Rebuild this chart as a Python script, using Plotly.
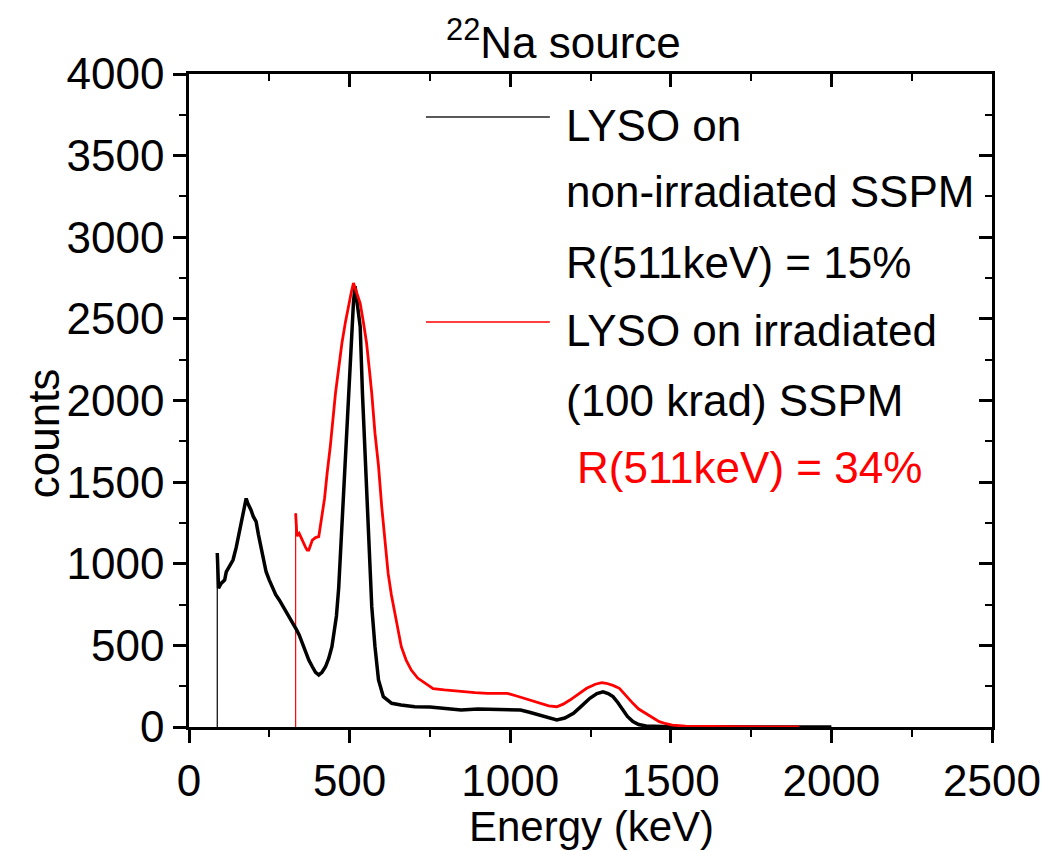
import plotly.graph_objects as go

# ---- data ----
energy_black = [88, 88, 92, 100, 111, 116, 125, 137, 147, 157, 165, 173, 178, 183, 188, 193, 200,
                209, 216, 224, 232, 240, 250, 260, 270, 281, 291, 301, 314, 327, 335, 343, 353,
                363, 373, 384, 394, 404, 414, 425, 435, 445, 452, 459, 466, 476, 487, 497, 507,
                512, 517, 522, 527, 533, 540, 548, 553, 559, 569, 579, 590, 605, 631, 660, 703,
                750, 795, 847, 900, 950, 1000, 1032, 1060, 1094, 1120, 1145, 1170, 1197, 1220,
                1248, 1270, 1289, 1305, 1320, 1335, 1351, 1365, 1382, 1400, 1423, 1450, 1500,
                1600, 1800, 2000]
counts_black = [0, 1066, 850, 880, 900, 950, 980, 1023, 1100, 1196, 1270, 1329, 1400, 1370, 1350,
                1329, 1290, 1258, 1180, 1094, 1020, 951, 900, 849, 810, 778, 745, 717, 670, 625,
                595, 564, 510, 461, 410, 369, 335, 319, 335, 369, 420, 492, 574, 680, 850, 1230,
                1650, 2044, 2452, 2600, 2700, 2620, 2560, 2452, 2044, 1676, 1450, 1146, 737, 492,
                288, 186, 145, 135, 124, 122, 114, 104, 110, 108, 104, 104, 90, 73, 55, 43, 55,
                84, 125, 176, 205, 216, 205, 186, 150, 104, 65, 33, 15, 6, 3, 2, 1, 0, 0]

energy_red = [332, 332, 336, 343, 353, 363, 368, 373, 384, 394, 404, 415, 422, 430, 440, 456, 466,
              476, 487, 497, 505, 512, 518, 525, 533, 543, 553, 561, 569, 579, 590, 600, 610, 620,
              630, 641, 651, 661, 676, 692, 712, 734, 760, 795, 847, 890, 929, 960, 991, 1020,
              1042, 1070, 1094, 1120, 1145, 1165, 1186, 1210, 1238, 1265, 1285, 1299, 1320, 1340,
              1360, 1382, 1400, 1423, 1445, 1464, 1485, 1505, 1546, 1600, 1700, 1800, 1900]
counts_red = [0, 1309, 1170, 1186, 1140, 1100, 1084, 1084, 1145, 1160, 1166, 1309, 1400, 1554,
              1720, 2044, 2200, 2350, 2480, 2595, 2660, 2720, 2680, 2640, 2595, 2480, 2350, 2200,
              2044, 1800, 1600, 1350, 1140, 941, 810, 696, 590, 492, 410, 349, 300, 268, 235,
              227, 216, 210, 206, 205, 206, 190, 176, 160, 145, 130, 124, 140, 165, 200, 237, 262,
              272, 268, 255, 237, 190, 145, 110, 84, 55, 33, 20, 12, 5, 3, 2, 1, 1]

x_ticks = [0, 500, 1000, 1500, 2000, 2500]
y_ticks = [0, 500, 1000, 1500, 2000, 2500, 3000, 3500, 4000]

legend_lines = ["LYSO on", "non-irradiated SSPM", "R(511keV) = 15%",
                "LYSO on irradiated", "(100 krad) SSPM"]
legend_red_line = "R(511keV) = 34%"

FONT = "Liberation Sans, Arial, sans-serif"
FS = 44

fig = go.Figure()
# vertical threshold edges (thin)
fig.add_trace(go.Scatter(x=energy_black[:2], y=counts_black[:2], mode="lines",
                         line=dict(color="black", width=1.2), showlegend=False))
fig.add_trace(go.Scatter(x=energy_red[:2], y=counts_red[:2], mode="lines",
                         line=dict(color="red", width=1.2), showlegend=False))
# spectra
fig.add_trace(go.Scatter(x=energy_black[1:], y=counts_black[1:], mode="lines",
                         line=dict(color="black", width=3.5), showlegend=False))
fig.add_trace(go.Scatter(x=energy_red[1:], y=counts_red[1:], mode="lines",
                         line=dict(color="red", width=2.8), showlegend=False))
# dummy for mirror axes
fig.add_trace(go.Scatter(x=[None], y=[None], xaxis="x2", yaxis="y2", showlegend=False))

axis_common = dict(showgrid=False, zeroline=False, showline=True, linecolor="black",
                   linewidth=2.5, tickcolor="black", tickwidth=2.5, ticklen=13)

fig.update_layout(
    width=1053, height=851, autosize=False,
    margin=dict(l=189, r=54, t=74, b=124, pad=0),
    plot_bgcolor="white", paper_bgcolor="white",
    font=dict(family=FONT, size=FS, color="black"),
    xaxis=dict(range=[0, 2500], tickvals=x_ticks, ticktext=[str(v) for v in x_ticks],
               ticks="outside", ticklabeloverflow="allow",
               minor=dict(ticks="outside", ticklen=7, tickwidth=2,
                          tickcolor="black", dtick=250, tick0=0),
               tickfont=dict(size=FS), **axis_common),
    yaxis=dict(range=[0, 4000], tickvals=y_ticks, ticktext=[str(v) for v in y_ticks],
               ticks="outside", ticklabeloverflow="allow",
               minor=dict(ticks="outside", ticklen=7, tickwidth=2,
                          tickcolor="black", dtick=250, tick0=0),
               tickfont=dict(size=FS), **axis_common),
    xaxis2=dict(range=[0, 2500], overlaying="x", side="top", anchor="y2",
                tickvals=x_ticks, showticklabels=False, ticks="inside",
                minor=dict(ticks="inside", ticklen=7, tickwidth=2, tickcolor="black",
                           dtick=250, tick0=0), **axis_common),
    yaxis2=dict(range=[0, 4000], overlaying="y", side="right", anchor="x2",
                tickvals=y_ticks, showticklabels=False, ticks="inside",
                minor=dict(ticks="inside", ticklen=7, tickwidth=2, tickcolor="black",
                           dtick=250, tick0=0), **axis_common),
)

def px_x(p):
    return (p - 189) / 810.0

def px_y(p):
    return (727 - p) / 653.0

ann = []
ann.append(dict(text="<sup>22</sup>Na source", x=px_x(567), y=px_y(40), xref="paper",
                yref="paper", showarrow=False, xanchor="center", yanchor="middle",
                font=dict(size=FS)))
ann.append(dict(text="Energy (keV)", x=px_x(595), y=px_y(826), xref="paper", yref="paper",
                showarrow=False, xanchor="center", yanchor="middle", font=dict(size=FS - 2)))
ann.append(dict(text="counts", x=px_x(42), y=px_y(433), xref="paper", yref="paper",
                showarrow=False, xanchor="center", yanchor="middle", textangle=-90,
                font=dict(size=FS)))
legend_y = [126, 191, 262, 330, 400]
for t, yy in zip(legend_lines, legend_y):
    ann.append(dict(text=t, x=px_x(567), y=px_y(yy), xref="paper", yref="paper",
                    showarrow=False, xanchor="left", yanchor="middle", font=dict(size=FS)))
ann.append(dict(text=legend_red_line, x=px_x(578), y=px_y(467), xref="paper", yref="paper",
                showarrow=False, xanchor="left", yanchor="middle",
                font=dict(size=FS, color="red")))
fig.update_layout(annotations=ann)

fig.add_shape(type="line", xref="paper", yref="paper", x0=px_x(428), x1=px_x(553),
              y0=px_y(117), y1=px_y(117), line=dict(color="#222222", width=1.5))
fig.add_shape(type="line", xref="paper", yref="paper", x0=px_x(428), x1=px_x(553),
              y0=px_y(322), y1=px_y(322), line=dict(color="red", width=1.5))

fig.write_html("out.html")
